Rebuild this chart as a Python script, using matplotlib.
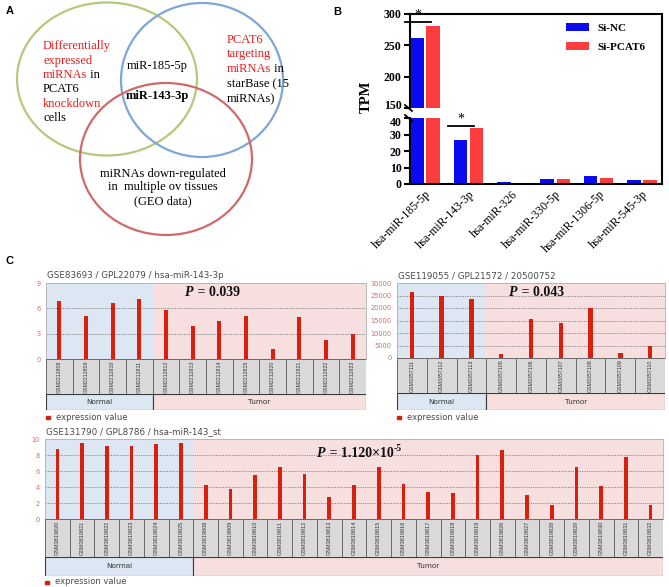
import matplotlib
matplotlib.use('Agg')
import matplotlib.pyplot as plt
from matplotlib.patches import Ellipse, Rectangle
from matplotlib.transforms import ScaledTranslation
import numpy as np

W, H = 669, 587
fig = plt.figure(figsize=(W / 100, H / 100), dpi=100)
fig.patch.set_facecolor('white')

# ---------------- data ----------------
mirnas = ['hsa-miR-185-5p', 'hsa-miR-143-3p', 'hsa-miR-326',
          'hsa-miR-330-5p', 'hsa-miR-1306-5p', 'hsa-miR-545-3p']
si_nc = [262, 26.6, 1.1, 2.8, 4.7, 2.5]
si_pcat6 = [281, 34.0, 0.1, 3.3, 3.8, 2.5]

c1_title = 'GSE83693 / GPL22079 / hsa-miR-143-3p'
c1_samples = ['GSM2212808', 'GSM2212809', 'GSM2212810', 'GSM2212811',
              'GSM2212812', 'GSM2212813', 'GSM2212814', 'GSM2212815',
              'GSM2212820', 'GSM2212821', 'GSM2212822', 'GSM2212823']
c1_groups = ['Normal'] * 4 + ['Tumor'] * 8
c1_values = [6.9, 5.1, 6.6, 7.1, 5.8, 3.9, 4.5, 5.1, 1.2, 5.0, 2.25, 3.0]
c1_yticks = [0, 3, 6, 9]

c2_title = 'GSE119055 / GPL21572 / 20500752'
c2_samples = ['GSM3357111', 'GSM3357112', 'GSM3357113', 'GSM3357105',
              'GSM3357106', 'GSM3357107', 'GSM3357108', 'GSM3357109',
              'GSM3357110']
c2_groups = ['Normal'] * 3 + ['Tumor'] * 6
c2_values = [26600, 24900, 23800, 1800, 15600, 14150, 20100, 2100, 4900]
c2_yticks = [0, 5000, 10000, 15000, 20000, 25000, 30000]

c3_title = 'GSE131790 / GPL8786 / hsa-miR-143_st'
c3_samples = ['GSM3819820', 'GSM3819821', 'GSM3819822', 'GSM3819823',
              'GSM3819824', 'GSM3819825', 'GSM3819808', 'GSM3819809',
              'GSM3819810', 'GSM3819811', 'GSM3819812', 'GSM3819813',
              'GSM3819814', 'GSM3819815', 'GSM3819816', 'GSM3819817',
              'GSM3819818', 'GSM3819819', 'GSM3819826', 'GSM3819827',
              'GSM3819828', 'GSM3819829', 'GSM3819830', 'GSM3819831',
              'GSM3819832']
c3_groups = ['Normal'] * 6 + ['Tumor'] * 19
c3_values = [8.75, 9.5, 9.1, 9.1, 9.4, 9.5, 4.25, 3.75, 5.55, 6.5, 5.6,
             2.75, 4.3, 6.45, 4.4, 3.4, 3.3, 8.0, 8.65, 3.0, 1.8, 6.45,
             4.1, 7.7, 1.7]
c3_yticks = [0, 2, 4, 6, 8, 10]

# ---------------- helpers ----------------
def rect(l, t, r, b):
    return [l / W, 1 - b / H, (r - l) / W, (b - t) / H]

SERIF = ['Liberation Serif', 'DejaVu Serif']
SANS = ['Liberation Sans', 'DejaVu Sans']
BLUE_BG = '#dde7f3'
PINK_BG = '#f7dfdf'
BAR_RED = '#d9200f'

# overlay axes in pixel coordinates (drawn last)
ov = fig.add_axes([0, 0, 1, 1], zorder=10)
ov.set_xlim(0, W)
ov.set_ylim(H, 0)
ov.axis('off')
ov.patch.set_alpha(0)


def chain(x, y, parts, ax=ov, **kw0):
    """Draw consecutive text pieces with different styles on one line."""
    s, kw = parts[0]
    d = dict(kw0); d.update(kw)
    t = ax.text(x, y, s, va='baseline', **d)
    for s, kw in parts[1:]:
        d = dict(kw0); d.update(kw)
        sup = d.pop('sup', False)
        if sup:
            t = ax.annotate(s, xy=(1, 0.55), xycoords=t, va='bottom', ha='left', **d)
        else:
            t = ax.annotate(s, xy=(1, 0), xycoords=t, va='bottom', ha='left', **d)
    return t

# ---------------- panel letters ----------------
for lab, (px, py) in {'A': (10, 11), 'B': (337, 12), 'C': (10, 261)}.items():
    ov.text(px, py, lab, family=SANS, fontweight='bold', fontsize=8,
            ha='center', va='center')

# ---------------- panel A: Venn ----------------
ov.add_patch(Ellipse((107, 79), 180, 153, fill=False, ec='#b5c97c', lw=1.6))
ov.add_patch(Ellipse((202, 80), 162, 154, fill=False, ec='#7ea6d8', lw=1.6))
ov.add_patch(Ellipse((166, 159), 172, 152, fill=False, ec='#cf6a6a', lw=1.6))

RED_T = '#ee1c1c'
fsA = 9
tkw = dict(family=SERIF, fontsize=fsA)
chain(43, 49, [('Differentially', dict(color=RED_T))], **tkw)
chain(43, 64, [('expressed', dict(color=RED_T))], **tkw)
chain(43, 78, [('miRNAs', dict(color=RED_T)), (' in', dict(color='black'))], **tkw)
chain(43, 92, [('PCAT6', dict(color='black'))], **tkw)
chain(43, 107, [('knockdown', dict(color=RED_T))], **tkw)
chain(43, 121, [('cells', dict(color='black'))], **tkw)

ov.text(157, 69, 'miR-185-5p', ha='center', va='baseline', **tkw)
ov.text(157, 99, 'miR-143-3p', ha='center', va='baseline', fontweight='bold', **tkw)

chain(227, 43, [('PCAT6', dict(color=RED_T))], **tkw)
chain(227, 57, [('targeting', dict(color=RED_T))], **tkw)
chain(227, 72, [('miRNAs', dict(color=RED_T)), (' in', dict(color='black'))], **tkw)
chain(227, 87, [('starBase (15', dict(color='black'))], **tkw)
chain(227, 102, [('miRNAs)', dict(color='black'))], **tkw)

ov.text(163, 177, 'miRNAs down-regulated', ha='center', va='baseline', **tkw)
ov.text(163, 190, 'in  multiple ov tissues', ha='center', va='baseline', **tkw)
ov.text(163, 204, '(GEO data)', ha='center', va='baseline', **tkw)

# ---------------- panel B ----------------
bl, br = 410, 662
axu = fig.add_axes(rect(bl, 14, br, 108))
axd = fig.add_axes(rect(bl, 118, br, 184))
xb = np.arange(len(mirnas))
bw, off = 0.31, 0.185
for a in (axu, axd):
    a.bar(xb - off, si_nc, bw, color='#0b0bf2', label='Si-NC')
    a.bar(xb + off, si_pcat6, bw, color='#fb3d3d', label='Si-PCAT6')
    a.set_xlim(-0.346, 5.46)
    for s in a.spines.values():
        s.set_linewidth(1.5)
    a.tick_params(axis='y', width=1.5, length=4, labelsize=8.5, pad=2)
axu.set_ylim(150, 300)
axd.set_ylim(0, 40)
axu.set_yticks([150, 200, 250, 300])
axd.set_yticks([0, 10, 20, 30, 40])
axu.spines['bottom'].set_visible(False)
axd.spines['top'].set_visible(False)
axu.set_xticks([])
axd.set_xticks(xb)
axd.tick_params(axis='x', length=0, pad=3)
axd.set_xticklabels(mirnas, rotation=45, ha='right', va='top',
                    rotation_mode='anchor', family=SERIF, fontsize=8.5)
for a in (axu, axd):
    for tl in a.get_yticklabels():
        tl.set_family(SERIF)
        tl.set_fontweight('bold')
# nudge the two labels at the break apart a little
lab150 = axu.get_yticklabels()[0]
lab150.set_transform(lab150.get_transform() + ScaledTranslation(0, 2.5 / 72, fig.dpi_scale_trans))
lab40 = axd.get_yticklabels()[-1]
lab40.set_transform(lab40.get_transform() + ScaledTranslation(0, -2.5 / 72, fig.dpi_scale_trans))

axu.legend(loc='upper left', bbox_to_anchor=(0.585, 1.0), frameon=False,
           prop=dict(family=SERIF, weight='bold', size=8),
           handlelength=2.0, handleheight=0.8, labelspacing=0.8,
           handletextpad=0.8, borderpad=0.3)
# significance marks
axu.plot([0 - 0.47, 0 + 0.13], [287, 287], color='black', lw=1.3, clip_on=False)
axu.text(-0.17, 287.5, '*', ha='center', va='bottom', family=SERIF, fontsize=10)
axd.plot([1 - 0.47, 1 + 0.13], [35.3, 35.3], color='black', lw=1.3, clip_on=False)
axd.text(1 - 0.17, 35.5, '*', ha='center', va='bottom', family=SERIF, fontsize=10)
# right spine across the gap, break marks
ov.plot([br, br], [108, 118], color='black', lw=1.5)
for yy in (108, 118):
    ov.plot([bl - 5, bl + 2], [yy - 3, yy + 3], color='black', lw=1.3)
ov.text(366, 97, 'TPM', rotation=90, ha='center', va='center', family=SERIF,
        fontweight='bold', fontsize=10.5)

# ---------------- panel C ----------------
def expr_panel(title, samples, groups, values, yticks, l, r, t_plot, b_plot,
               b_lbl, b_grp, title_y, leg_y, lbl_fs):
    n = len(samples)
    nn = groups.count('Normal')
    x = np.arange(n)
    ax = fig.add_axes(rect(l, t_plot, r, b_plot))
    ax.set_xlim(-0.5, n - 0.5)
    ax.set_ylim(yticks[0], yticks[-1])
    ax.axvspan(-0.5, nn - 0.5, color=BLUE_BG, zorder=0, lw=0)
    ax.axvspan(nn - 0.5, n - 0.5, color=PINK_BG, zorder=0, lw=0)
    for yt in yticks[1:-1]:
        ax.axhline(yt, color='#8a8a8a', ls=(0, (1.2, 1.2)), lw=0.7, zorder=1)
    ax.bar(x, values, width=0.15, color=BAR_RED, zorder=2)
    ax.set_xticks([])
    ax.set_yticks(yticks)
    ax.tick_params(axis='y', length=0, labelsize=4.8, labelcolor='#d66a6a', pad=4)
    for s in ax.spines.values():
        s.set_color('#b0b0b0')
        s.set_linewidth(0.6)
    # sample label boxes
    axl = fig.add_axes(rect(l, b_plot, r, b_lbl))
    axl.set_xlim(-0.5, n - 0.5)
    axl.set_ylim(0, 1)
    axl.axis('off')
    for i, sname in enumerate(samples):
        axl.add_patch(Rectangle((i - 0.5, 0), 1, 1, fc='#d9d9d9', ec='#6a6a6a', lw=0.7))
        axl.text(i, 0.5, sname, rotation=90, ha='center', va='center',
                 fontsize=lbl_fs, color='#333333', family=SANS)
    # group boxes
    axg = fig.add_axes(rect(l, b_lbl, r, b_grp))
    axg.set_xlim(-0.5, n - 0.5)
    axg.set_ylim(0, 1)
    axg.axis('off')
    for g0, g1, name, col in [(-0.5, nn - 0.5, 'Normal', BLUE_BG),
                              (nn - 0.5, n - 0.5, 'Tumor', PINK_BG)]:
        axg.add_patch(Rectangle((g0, 0), g1 - g0, 1, fc=col, ec='#3a3a3a', lw=0.8))
        axg.text((g0 + g1) / 2, 0.5, name, ha='center', va='center',
                 fontsize=5.2, color='#333333', family=['DejaVu Sans'])
    # title and legend
    ov.text(l + 1, title_y, title, ha='left', va='center', fontsize=6.3,
            color='#4a4a4a', family=['DejaVu Sans'])
    ov.add_patch(Rectangle((l, leg_y - 1.5), 4, 3, color=BAR_RED))
    ov.text(l + 10, leg_y, 'expression value', ha='left', va='center',
            fontsize=6, color='#4a4a4a', family=['DejaVu Sans'])
    return ax


expr_panel(c1_title, c1_samples, c1_groups, c1_values, c1_yticks,
           46, 366, 283, 359, 394, 410, 276, 417, 3.8)
expr_panel(c2_title, c2_samples, c2_groups, c2_values, c2_yticks,
           397, 665, 283, 358, 393, 410, 276, 417, 3.8)
expr_panel(c3_title, c3_samples, c3_groups, c3_values, c3_yticks,
           45, 663, 439, 519, 557, 576, 432, 582, 4.0)

pk = dict(family=SERIF, fontsize=10, fontweight='bold', color='#111111')
chain(185, 296, [('P', dict(style='italic')), (' = 0.039', {})], **pk)
chain(509, 296, [('P', dict(style='italic')), (' = 0.043', {})], **pk)
chain(317, 457, [('P', dict(style='italic')), (' = 1.120\u00d710', {}),
                 ('-5', dict(sup=True, fontsize=7))], **pk)

fig.savefig('out.png', dpi=100, facecolor='white')
